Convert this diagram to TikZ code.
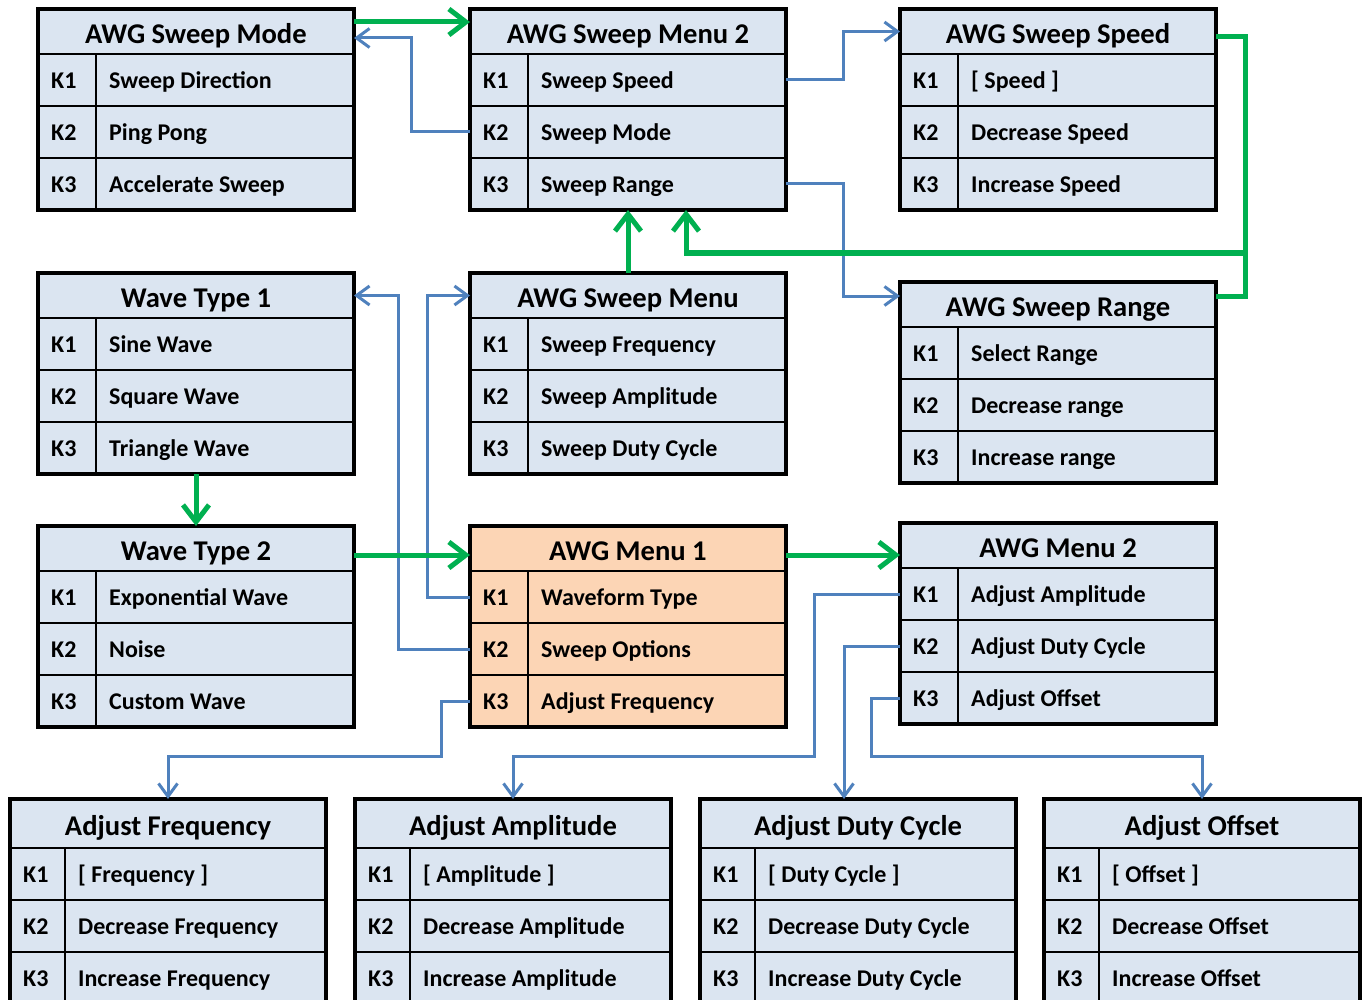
\documentclass[tikz,border=0pt]{standalone}
\usepackage{fontspec}
\setmainfont{Carlito}
\usetikzlibrary{arrows.meta}
\definecolor{cellblue}{HTML}{DBE5F1}
\definecolor{cellorange}{HTML}{FCD5B5}
\definecolor{linkblue}{HTML}{4F81BD}
\definecolor{linkgreen}{HTML}{00B050}
\newlength\hdrh
\newlength\keyw
\tikzset{
  cell/.style={draw=black, line width=2pt, inner sep=0pt, outer sep=0pt, anchor=north west, minimum width=316pt, fill=cellblue},
  hdrtxt/.style={anchor=base, inner sep=0pt, font=\fontsize{28.6}{30}\selectfont\bfseries},
  rowtxt/.style={anchor=base west, inner sep=0pt, font=\fontsize{24}{26}\selectfont\bfseries},
  outerline/.style={draw=black, line width=3.2pt, line join=miter},
  divline/.style={draw=black, line width=2pt},
  bluelink/.style={draw=linkblue, line width=3pt, -{Straight Barb[length=13pt,width=19pt]}},
  greenlink/.style={draw=linkgreen, line width=5pt, -{Straight Barb[length=17pt,width=26pt]}},
  greenline/.style={draw=linkgreen, line width=5pt},
}
\newcommand\menubox[8][]{%
  \node[cell,minimum height=\hdrh,#1] (#2) at (#3,#4) {};
  \node[hdrtxt] (#2-title) at ([yshift=-12pt]#2.center) {#5};
  \node[cell,minimum height=52pt,#1] (#2-1) at (#2.south west) {};
  \node[cell,minimum height=52pt,#1] (#2-2) at (#2-1.south west) {};
  \node[cell,minimum height=52pt,#1] (#2-3) at (#2-2.south west) {};
  \draw[divline] ([xshift=\keyw]#2-1.north west) -- ([xshift=\keyw]#2-3.south west);
  \node[rowtxt] (#2-k1) at ([xshift=13pt,yshift=-8.5pt]#2-1.west) {K1};
  \node[rowtxt] (#2-k2) at ([xshift=13pt,yshift=-8.5pt]#2-2.west) {K2};
  \node[rowtxt] (#2-k3) at ([xshift=13pt,yshift=-8.5pt]#2-3.west) {K3};
  \node[rowtxt] (#2-t1) at ([xshift={\keyw+13pt},yshift=-8.5pt]#2-1.west) {#6};
  \node[rowtxt] (#2-t2) at ([xshift={\keyw+13pt},yshift=-8.5pt]#2-2.west) {#7};
  \node[rowtxt] (#2-t3) at ([xshift={\keyw+13pt},yshift=-8.5pt]#2-3.west) {#8};
  \draw[outerline] (#2.north west) rectangle (#2-3.south east);
}
\begin{document}
\begin{tikzpicture}[x=1pt,y=-1pt]
\useasboundingbox (0,0) rectangle (1364,1000);
\fill[white] (0,0) rectangle (1364,1000);
\clip (0,0) rectangle (1364,1000);
\setlength\hdrh{45pt}\setlength\keyw{58pt}
\menubox{mode}{38}{9}{AWG Sweep Mode}{Sweep Direction}{Ping Pong}{Accelerate Sweep}
\menubox{menutwos}{470}{9}{AWG Sweep Menu 2}{Sweep Speed}{Sweep Mode}{Sweep Range}
\menubox{speed}{900}{9}{AWG Sweep Speed}{[ Speed ]}{Decrease Speed}{Increase Speed}
\menubox{waveone}{38}{273}{Wave Type 1}{Sine Wave}{Square Wave}{Triangle Wave}
\menubox{sweepmenu}{470}{273}{AWG Sweep Menu}{Sweep Frequency}{Sweep Amplitude}{Sweep Duty Cycle}
\menubox{range}{900}{282}{AWG Sweep Range}{Select Range}{Decrease range}{Increase range}
\menubox{wavetwo}{38}{526}{Wave Type 2}{Exponential Wave}{Noise}{Custom Wave}
\menubox[fill=cellorange]{menuone}{470}{526}{AWG Menu 1}{Waveform Type}{Sweep Options}{Adjust Frequency}
\menubox{menutwo}{900}{523}{AWG Menu 2}{Adjust Amplitude}{Adjust Duty Cycle}{Adjust Offset}
\setlength\hdrh{49pt}\setlength\keyw{55pt}
\menubox{afreq}{10}{799}{Adjust Frequency}{[ Frequency ]}{Decrease Frequency}{Increase Frequency}
\menubox{aamp}{355}{799}{Adjust Amplitude}{[ Amplitude ]}{Decrease Amplitude}{Increase Amplitude}
\menubox{aduty}{700}{799}{Adjust Duty Cycle}{[ Duty Cycle ]}{Decrease Duty Cycle}{Increase Duty Cycle}
\menubox{aoff}{1044}{799}{Adjust Offset}{[ Offset ]}{Decrease Offset}{Increase Offset}
% connectors
\coordinate (bus) at (0,756);
\coordinate (gjoin) at (1245,253);
\coordinate (gstart) at ([yshift=-6.5pt]menuone.east);
\draw[greenlink] ([yshift=9.5pt]mode.east) -- ([yshift=9.5pt]menutwos.west);
\draw[bluelink] (menutwos-2.west) -- ++(-59,0) |- ([yshift=-6.5pt]mode.east);
\draw[bluelink] (menutwos-1.east) -- ++(57,0) |- (speed.west);
\draw[bluelink] (menutwos-3.east) -- ++(57,0) |- ([yshift=8.5pt]range.west);
\draw[greenlink] (sweepmenu.north) -- (menutwos-3.south);
\draw[greenline] ([yshift=-5.5pt]speed.east) -| (gjoin);
\draw[greenline] ([yshift=8.5pt]range.east) -| (gjoin);
\draw[greenlink] (gjoin) -| ([xshift=58pt]menutwos-3.south);
\draw[bluelink] (menuone-1.west) -- ++(-43,0) |- (sweepmenu.west);
\draw[bluelink] (menuone-2.west) -- ++(-72,0) |- (waveone.east);
\draw[greenlink] (waveone-3.south) -- (wavetwo.north);
\draw[greenlink] ([yshift=-6.5pt]wavetwo.east) -- ([yshift=-6.5pt]menuone.west);
\draw[greenlink] (gstart) -- (menutwo.west |- gstart);
\draw[bluelink] (menuone-3.west) -- ++(-29,0) |- (afreq.north |- bus) -- (afreq.north);
\draw[bluelink] (menutwo-1.west) -- ++(-86,0) |- (aamp.north |- bus) -- (aamp.north);
\draw[bluelink] (menutwo-2.west) -| ([xshift=-14pt]aduty.north);
\draw[bluelink] (menutwo-3.west) -- ++(-29,0) |- (aoff.north |- bus) -- (aoff.north);
\end{tikzpicture}
\end{document}
